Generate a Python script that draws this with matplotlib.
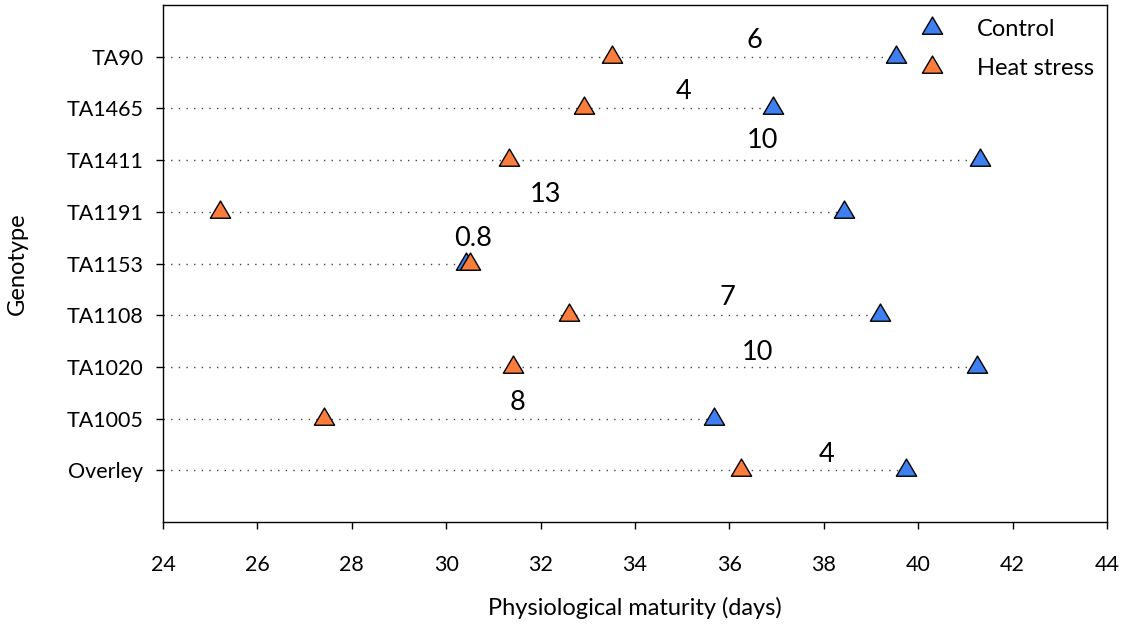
import numpy as np
import matplotlib
matplotlib.use("Agg")
import matplotlib.pyplot as plt
from matplotlib.path import Path

plt.rcParams["font.family"] = ["Lato", "DejaVu Sans"]

# Days to physiological maturity per genotype, bottom row first
genotypes = ["Overley", "TA1005", "TA1020", "TA1108", "TA1153",
             "TA1191", "TA1411", "TA1465", "TA90"]
control = [39.75, 35.68, 41.25, 39.2, 30.42, 38.42, 41.3, 36.92, 39.52]
heat = [36.25, 27.42, 31.42, 32.6, 30.5, 25.2, 31.32, 32.92, 33.52]
diff_labels = ["4", "8", "10", "7", "0.8", "13", "10", "4", "6"]

BLUE = "#3f7ff0"
ORANGE = "#fb7d3e"

# equilateral-ish triangle, centroid on the data point
tri = Path([(-1, -0.567), (1, -0.567), (0, 1.133), (-1, -0.567)],
           [Path.MOVETO, Path.LINETO, Path.LINETO, Path.CLOSEPOLY])

fig = plt.figure(figsize=(11.28, 6.29), dpi=100)
ax = fig.add_axes([0.1445, 0.170, 0.8369, 0.822])

y = np.arange(1, len(genotypes) + 1)

# dotted guide from the axis out to the later of the two dates
for yi, c, h in zip(y, control, heat):
    ax.plot([24, max(c, h)], [yi, yi], color="#444444", lw=1.0,
            ls=(0, (1, 4.5)), zorder=1)

ax.plot(control, y, ls="none", marker=tri, ms=16.5, mfc=BLUE, mec="black",
        mew=1.0, label="Control", zorder=3)
ax.plot(heat, y, ls="none", marker=tri, ms=16.5, mfc=ORANGE, mec="black",
        mew=1.0, label="Heat stress", zorder=4)

# difference labels sit above the midpoint of each pair
label_dx = [0.05, -0.05, 0.25, 0.05, 0.1, 0.3, 0.4, 0.1, 0.0]
label_dy = [0.3, 0.32, 0.28, 0.34, 0.48, 0.33, 0.38, 0.33, 0.31]
for yi, c, h, t, dx, dy in zip(y, control, heat, diff_labels, label_dx, label_dy):
    ax.text((c + h) / 2 + dx, yi + dy, t, ha="center", va="center",
            fontsize=19.5, color="black")

ax.set_xlim(24, 44)
ax.set_ylim(0, 10)
ax.set_xticks(np.arange(24, 45, 2))
ax.set_yticks(y)
ax.set_yticklabels(genotypes)
ax.tick_params(axis="both", direction="out", length=5, width=1.0,
               labelsize=15.5, colors="black")
ax.tick_params(axis="x", pad=19)
ax.tick_params(axis="y", pad=9)
for s in ax.spines.values():
    s.set_linewidth(1.0)
    s.set_color("black")

ax.set_xlabel("Physiological maturity (days)", fontsize=17)
ax.set_ylabel("Genotype", fontsize=17)
ax.xaxis.set_label_coords(0.5, -0.145)
ax.yaxis.set_label_coords(-0.143, 0.5)

ax.legend(loc="upper left", frameon=False, fontsize=17, handletextpad=1.27,
          labelspacing=0.75, borderaxespad=0, borderpad=0.4,
          bbox_to_anchor=(0.79, 0.991), handlelength=1.2)

fig.savefig("out.png", dpi=100)
